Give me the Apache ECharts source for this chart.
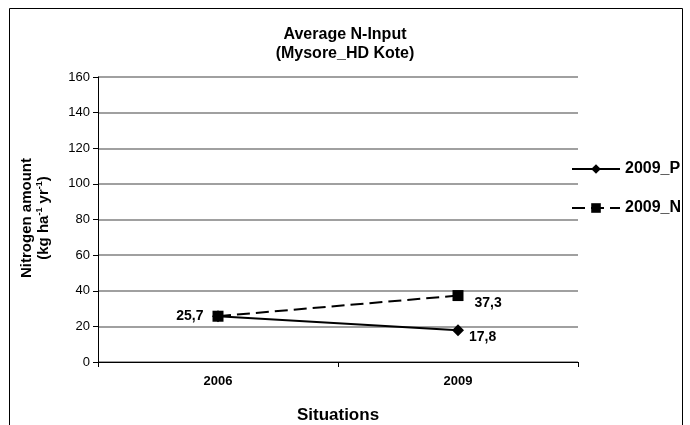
<!DOCTYPE html>
<html>
<head>
<meta charset="utf-8">
<script src="https://cdn.jsdelivr.net/npm/echarts@6/dist/echarts.min.js"></script>
<style>
  html, body { margin: 0; padding: 0; background: #fff; }
  #chart { width: 690px; height: 425px; }
</style>
</head>
<body>
<div id="chart"></div>
<script>
// Average nitrogen input, Mysore HD Kote
const categories = ['2006', '2009'];
const seriesP = [25.7, 17.8];   // 2009_P
const seriesN = [25.7, 37.3];   // 2009_N
const yTicks = { min: 0, max: 160, interval: 20 };

const fmt = v => String(v).replace('.', ',');
const font = 'Arial, "Liberation Sans", sans-serif';

const chart = echarts.init(document.getElementById('chart'));
chart.setOption({
  animation: false,
  backgroundColor: '#fff',
  title: {
    text: 'Average N-Input\n(Mysore_HD Kote)',
    left: 340, top: 20, textAlign: 'center',
    textStyle: { fontFamily: font, fontSize: 16, fontWeight: 'bold', color: '#000', lineHeight: 19 }
  },
  graphic: [{
    type: 'rect', shape: { x: 9.5, y: 8.5, width: 673, height: 430 },
    style: { fill: 'none', stroke: '#000', lineWidth: 1 }, silent: true
  }, {
    type: 'text', x: 35, y: 218, rotation: Math.PI / 2,
    style: {
      text: '{a|Nitrogen amount}\n{a|(kg ha}{s|-1}{a| yr}{s|-1}{a|)}',
      align: 'center', verticalAlign: 'middle',
      rich: {
        a: { fontFamily: font, fontSize: 15, fontWeight: 'bold', fill: '#000', lineHeight: 17 },
        s: { fontFamily: font, fontSize: 9, fontWeight: 'bold', fill: '#000', verticalAlign: 'top', lineHeight: 17 }
      }
    }
  }],
  legend: {
    orient: 'vertical', left: 566, top: 156, itemGap: 23,
    itemWidth: 48, itemHeight: 12,
    textStyle: { fontFamily: font, fontSize: 16, fontWeight: 'bold', color: '#000', lineHeight: 16 },
    data: ['2009_P', '2009_N']
  },
  grid: { left: 98, right: 112, top: 77, bottom: 63, containLabel: false, outerBoundsMode: 'none' },
  xAxis: {
    type: 'category', data: categories, boundaryGap: true,
    name: 'Situations', nameLocation: 'middle', nameGap: 45,
    nameTextStyle: { fontFamily: font, fontSize: 17, fontWeight: 'bold', color: '#000' },
    axisLine: { lineStyle: { color: '#000', width: 1 } },
    axisTick: { show: true, alignWithLabel: false, length: 5, lineStyle: { color: '#000' } },
    axisLabel: { fontFamily: font, fontSize: 13, fontWeight: 'bold', color: '#000', margin: 13 },
    splitLine: { show: false }
  },
  yAxis: {
    type: 'value', min: yTicks.min, max: yTicks.max, interval: yTicks.interval,
    axisLine: { show: true, lineStyle: { color: '#000', width: 1 } },
    axisTick: { show: true, inside: false, length: 5, lineStyle: { color: '#000' } },
    axisLabel: { fontFamily: font, fontSize: 13, color: '#000', margin: 8 },
    splitLine: { show: true, lineStyle: { color: '#808080', width: 1.5 } }
  },
  series: [{
    name: '2009_P', type: 'line', data: seriesP,
    symbol: 'diamond', symbolSize: 12,
    itemStyle: { color: '#000' },
    lineStyle: { color: '#000', width: 2, type: 'solid' },
    label: {
      show: true, position: 'right', distance: 5, offset: [0, 7],
      fontFamily: font, fontSize: 14, fontWeight: 'bold', color: '#000',
      formatter: p => p.dataIndex === 0 ? '' : fmt(p.value)
    }
  }, {
    name: '2009_N', type: 'line',
    symbol: 'rect', symbolSize: 11,
    itemStyle: { color: '#000' },
    lineStyle: { color: '#000', width: 2, type: [13, 6] },
    label: {
      show: true, fontFamily: font, fontSize: 14, fontWeight: 'bold', color: '#000',
      formatter: p => fmt(p.value)
    },
    data: seriesN.map((v, i) => ({
      value: v,
      label: i === 0 ? { position: 'left', distance: 9 } : { position: 'right', distance: 11, offset: [0, 8] }
    }))
  }]
});
</script>
</body>
</html>
